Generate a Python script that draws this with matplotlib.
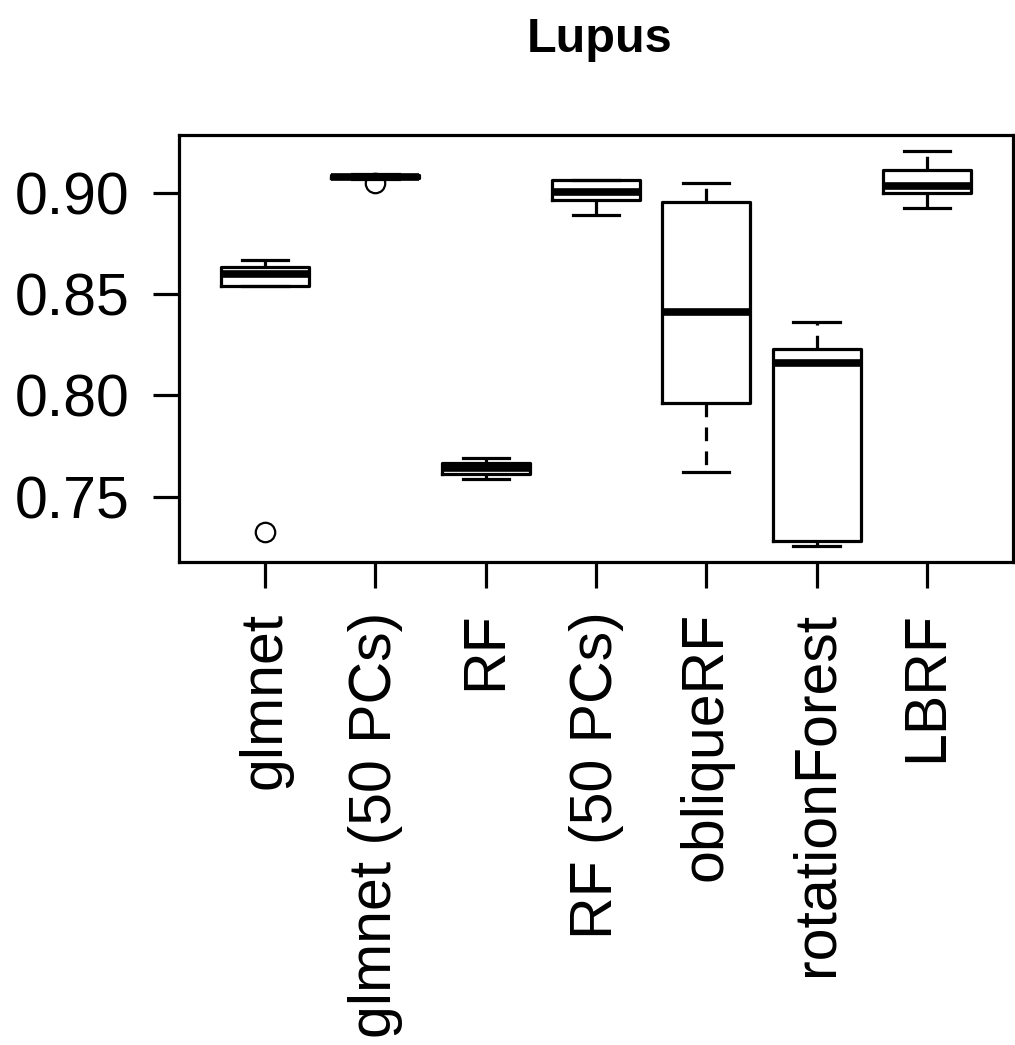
import matplotlib
matplotlib.use("Agg")
import matplotlib.pyplot as plt

plt.rcParams['font.family'] = ['Liberation Sans', 'DejaVu Sans']

methods = ["glmnet", "glmnet (50 PCs)", "RF", "RF (50 PCs)", "obliqueRF", "rotationForest", "LBRF"]
whislo = [0.8541, 0.9070, 0.7588, 0.8890, 0.7621, 0.7259, 0.8926]
q1 = [0.8541, 0.9075, 0.7614, 0.8966, 0.7964, 0.7282, 0.8997]
med = [0.8600, 0.9080, 0.7640, 0.9005, 0.8410, 0.8161, 0.9033]
q3 = [0.8635, 0.9088, 0.7666, 0.9063, 0.8956, 0.8230, 0.9112]
whishi = [0.8668, 0.9092, 0.7690, 0.9063, 0.9049, 0.8364, 0.9207]
fliers = [[0.7328], [0.9050], [], [], [], [], []]
yticks = [0.75, 0.80, 0.85, 0.90]
ytick_labels = ["0.75", "0.80", "0.85", "0.90"]
title = "Lupus"

stats = []
for i, m in enumerate(methods):
    stats.append(dict(label=m, whislo=whislo[i], q1=q1[i], med=med[i],
                      q3=q3[i], whishi=whishi[i], fliers=fliers[i]))

fig = plt.figure(figsize=(10.15, 10.45), dpi=100)
ax = fig.add_axes([179/1015, 1 - 562/1045, (1013 - 179)/1015, (562 - 135)/1045])

lw = 2.3
ax.bxp(stats, positions=range(1, len(methods) + 1), widths=0.8, capwidths=0.42,
       showfliers=True,
       boxprops=dict(color="black", linewidth=lw),
       medianprops=dict(color="black", linewidth=5.5, solid_capstyle="butt"),
       whiskerprops=dict(color="black", linewidth=lw, linestyle=(0, (4.3, 3.2))),
       capprops=dict(color="black", linewidth=lw),
       flierprops=dict(marker="o", markersize=14, markerfacecolor="none",
                       markeredgecolor="black", markeredgewidth=1.6))

ax.set_xlim(0.22, 7.78)
ax.set_ylim(0.7178, 0.9285)
ax.set_yticks(yticks)
ax.set_yticklabels(ytick_labels)
ax.set_xticks(range(1, len(methods) + 1))
ax.set_xticklabels(methods, rotation=90, ha="center", va="top")
ax.tick_params(axis="both", length=18.7, width=lw, labelsize=42.5, color="black")
ax.tick_params(axis="x", pad=17)
ax.tick_params(axis="y", pad=17)
for s in ax.spines.values():
    s.set_linewidth(lw)
    s.set_color("black")

fig.text(600/1015, 1 - 52/1045, title, ha="center", va="baseline",
         fontsize=35, fontweight="bold")

fig.savefig("out.png", dpi=100)
